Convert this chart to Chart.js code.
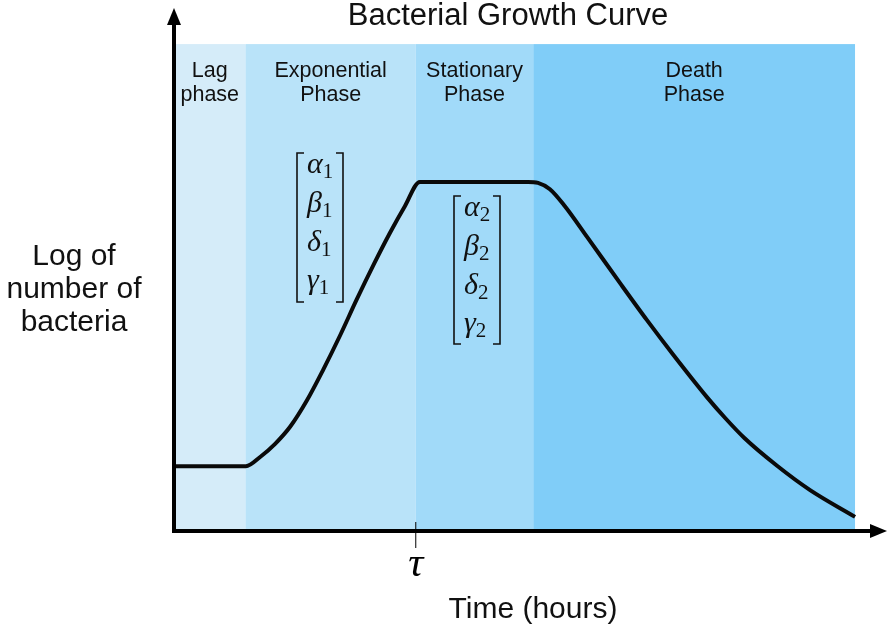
<!DOCTYPE html>
<html>
<head>
<meta charset="utf-8">
<title>Bacterial Growth Curve</title>
<script src="https://cdn.jsdelivr.net/npm/chart.js@4.4.1/dist/chart.umd.min.js"></script>
<style>
  html, body { margin: 0; padding: 0; background: #fff; }
  #wrap { width: 887px; height: 626px; }
</style>
</head>
<body>
<div id="wrap"><canvas id="growthChart"></canvas></div>
<script>
// Curve (time in hours, log of count)
const times = [0, 2.11, 2.53, 2.97, 3.41, 3.91, 4.38, 4.88, 5.37, 5.87, 6.34, 6.78, 7.22,
               10.4, 10.69, 11.04, 11.48, 12.13, 13.1, 13.89, 14.65, 15.65, 16.2, 16.75,
               17.71, 18.68, 20];
const logCounts = [1.33, 1.33, 1.52, 1.79, 2.14, 2.69, 3.31, 4.02, 4.76, 5.48, 6.12, 6.67, 7.17,
                   7.17, 7.15, 7.02, 6.67, 6.04, 5.09, 4.33, 3.63, 2.75, 2.31, 1.91,
                   1.34, 0.84, 0.29];

// Phases
const phaseNames = [['Lag', 'phase'], ['Exponential', 'Phase'], ['Stationary', 'Phase'], ['Death', 'Phase']];
const phaseStart = [0, 2.1, 7.1, 10.55];
const phaseEnd = [2.1, 7.1, 10.55, 20];
const phaseColors = ['#d5ecf9', '#b9e3f9', '#a1daf9', '#80cdf8'];
const bandTop = 10;

const tauTime = 7.1;
const params1 = ['α', 'β', 'δ', 'γ'];
const params2 = ['α', 'β', 'δ', 'γ'];

/**
 * Draws a bracketed column vector of greek parameters
 */
function drawMatrix(ctx, left, top, right, bottom, symbols, sub) {
    const tick = 7;
    ctx.save();
    ctx.strokeStyle = '#111';
    ctx.lineWidth = 1.6;
    ctx.beginPath();
    ctx.moveTo(left + tick, top); ctx.lineTo(left, top); ctx.lineTo(left, bottom); ctx.lineTo(left + tick, bottom);
    ctx.moveTo(right - tick, top); ctx.lineTo(right, top); ctx.lineTo(right, bottom); ctx.lineTo(right - tick, bottom);
    ctx.stroke();
    ctx.fillStyle = '#111';
    ctx.textBaseline = 'alphabetic';
    const rows = [20, 59, 98, 136];
    symbols.forEach((s, i) => {
        ctx.font = 'italic 30px "Liberation Serif", serif';
        ctx.textAlign = 'left';
        const x = left + 10;
        const y = top + rows[i];
        ctx.fillText(s, x, y);
        const w = ctx.measureText(s).width;
        ctx.font = '21px "Liberation Serif", serif';
        ctx.fillText(sub, x + w, y + 5);
    });
    ctx.restore();
}

const decorPlugin = {
    id: 'decor',
    beforeDatasetsDraw(chart) {
        const ctx = chart.ctx;
        const xs = chart.scales.x;
        const ys = chart.scales.y;
        const area = chart.chartArea;
        ctx.save();
        // phase bands
        phaseStart.forEach((s, i) => {
            const x0 = xs.getPixelForValue(s);
            const x1 = xs.getPixelForValue(phaseEnd[i]);
            const yTop = ys.getPixelForValue(bandTop);
            ctx.fillStyle = phaseColors[i];
            ctx.fillRect(x0, yTop, x1 - x0, area.bottom - yTop);
        });
        // phase labels
        ctx.fillStyle = '#111';
        ctx.font = '21.5px "Liberation Sans", Arial, sans-serif';
        ctx.textAlign = 'center';
        ctx.textBaseline = 'alphabetic';
        phaseNames.forEach((lines, i) => {
            const cx = (xs.getPixelForValue(phaseStart[i]) + xs.getPixelForValue(phaseEnd[i])) / 2;
            ctx.fillText(lines[0], cx, 77);
            ctx.fillText(lines[1], cx, 101);
        });
        // parameter vectors
        drawMatrix(ctx, 297, 153, 343, 302, params1, '1');
        drawMatrix(ctx, 454, 196, 500, 344, params2, '2');
        ctx.restore();
    },
    afterDatasetsDraw(chart) {
        const ctx = chart.ctx;
        const xs = chart.scales.x;
        const area = chart.chartArea;
        ctx.save();
        ctx.strokeStyle = '#000';
        ctx.fillStyle = '#000';
        ctx.lineWidth = 4;
        // y axis with arrow
        ctx.beginPath();
        ctx.moveTo(area.left, area.bottom + 2);
        ctx.lineTo(area.left, area.top + 14);
        ctx.stroke();
        ctx.beginPath();
        ctx.moveTo(area.left, area.top - 2);
        ctx.lineTo(area.left - 7, area.top + 15);
        ctx.lineTo(area.left + 7, area.top + 15);
        ctx.closePath();
        ctx.fill();
        // x axis with arrow
        ctx.beginPath();
        ctx.moveTo(area.left - 2, area.bottom);
        ctx.lineTo(area.right - 14, area.bottom);
        ctx.stroke();
        ctx.beginPath();
        ctx.moveTo(area.right + 2, area.bottom);
        ctx.lineTo(area.right - 15, area.bottom - 7);
        ctx.lineTo(area.right - 15, area.bottom + 7);
        ctx.closePath();
        ctx.fill();
        // tau tick
        const tx = xs.getPixelForValue(tauTime);
        ctx.lineWidth = 1;
        ctx.beginPath();
        ctx.moveTo(tx, area.bottom - 9);
        ctx.lineTo(tx, area.bottom + 17);
        ctx.stroke();
        ctx.font = 'italic 42px "Liberation Serif", serif';
        ctx.textAlign = 'center';
        ctx.textBaseline = 'alphabetic';
        ctx.fillText('τ', tx, 576);
        // titles
        ctx.fillStyle = '#111';
        ctx.font = '31px "Liberation Sans", Arial, sans-serif';
        ctx.fillText('Bacterial Growth Curve', 508, 25);
        ctx.font = '30px "Liberation Sans", Arial, sans-serif';
        ctx.fillText('Time (hours)', 533, 618);
        ctx.fillText('Log of', 74, 265);
        ctx.fillText('number of', 74, 298);
        ctx.fillText('bacteria', 74, 331);
        ctx.restore();
    }
};

document.addEventListener('DOMContentLoaded', function() {
    const canvas = document.getElementById('growthChart');
    const points = times.map((t, i) => ({ x: t, y: logCounts[i] }));
    new Chart(canvas.getContext('2d'), {
        type: 'line',
        data: {
            datasets: [{
                data: points,
                borderColor: '#0a0a0a',
                borderWidth: 4,
                pointRadius: 0,
                fill: false,
                cubicInterpolationMode: 'monotone',
                clip: false
            }]
        },
        options: {
            responsive: true,
            maintainAspectRatio: false,
            animation: false,
            layout: { padding: { left: 174, right: 2, top: 10, bottom: 95 } },
            plugins: { legend: { display: false }, tooltip: { enabled: false }, title: { display: false } },
            scales: {
                x: { type: 'linear', min: 0, max: 20.88, display: false },
                y: { type: 'linear', min: 0, max: 10.7, display: false }
            }
        },
        plugins: [decorPlugin]
    });
});
</script>
</body>
</html>
